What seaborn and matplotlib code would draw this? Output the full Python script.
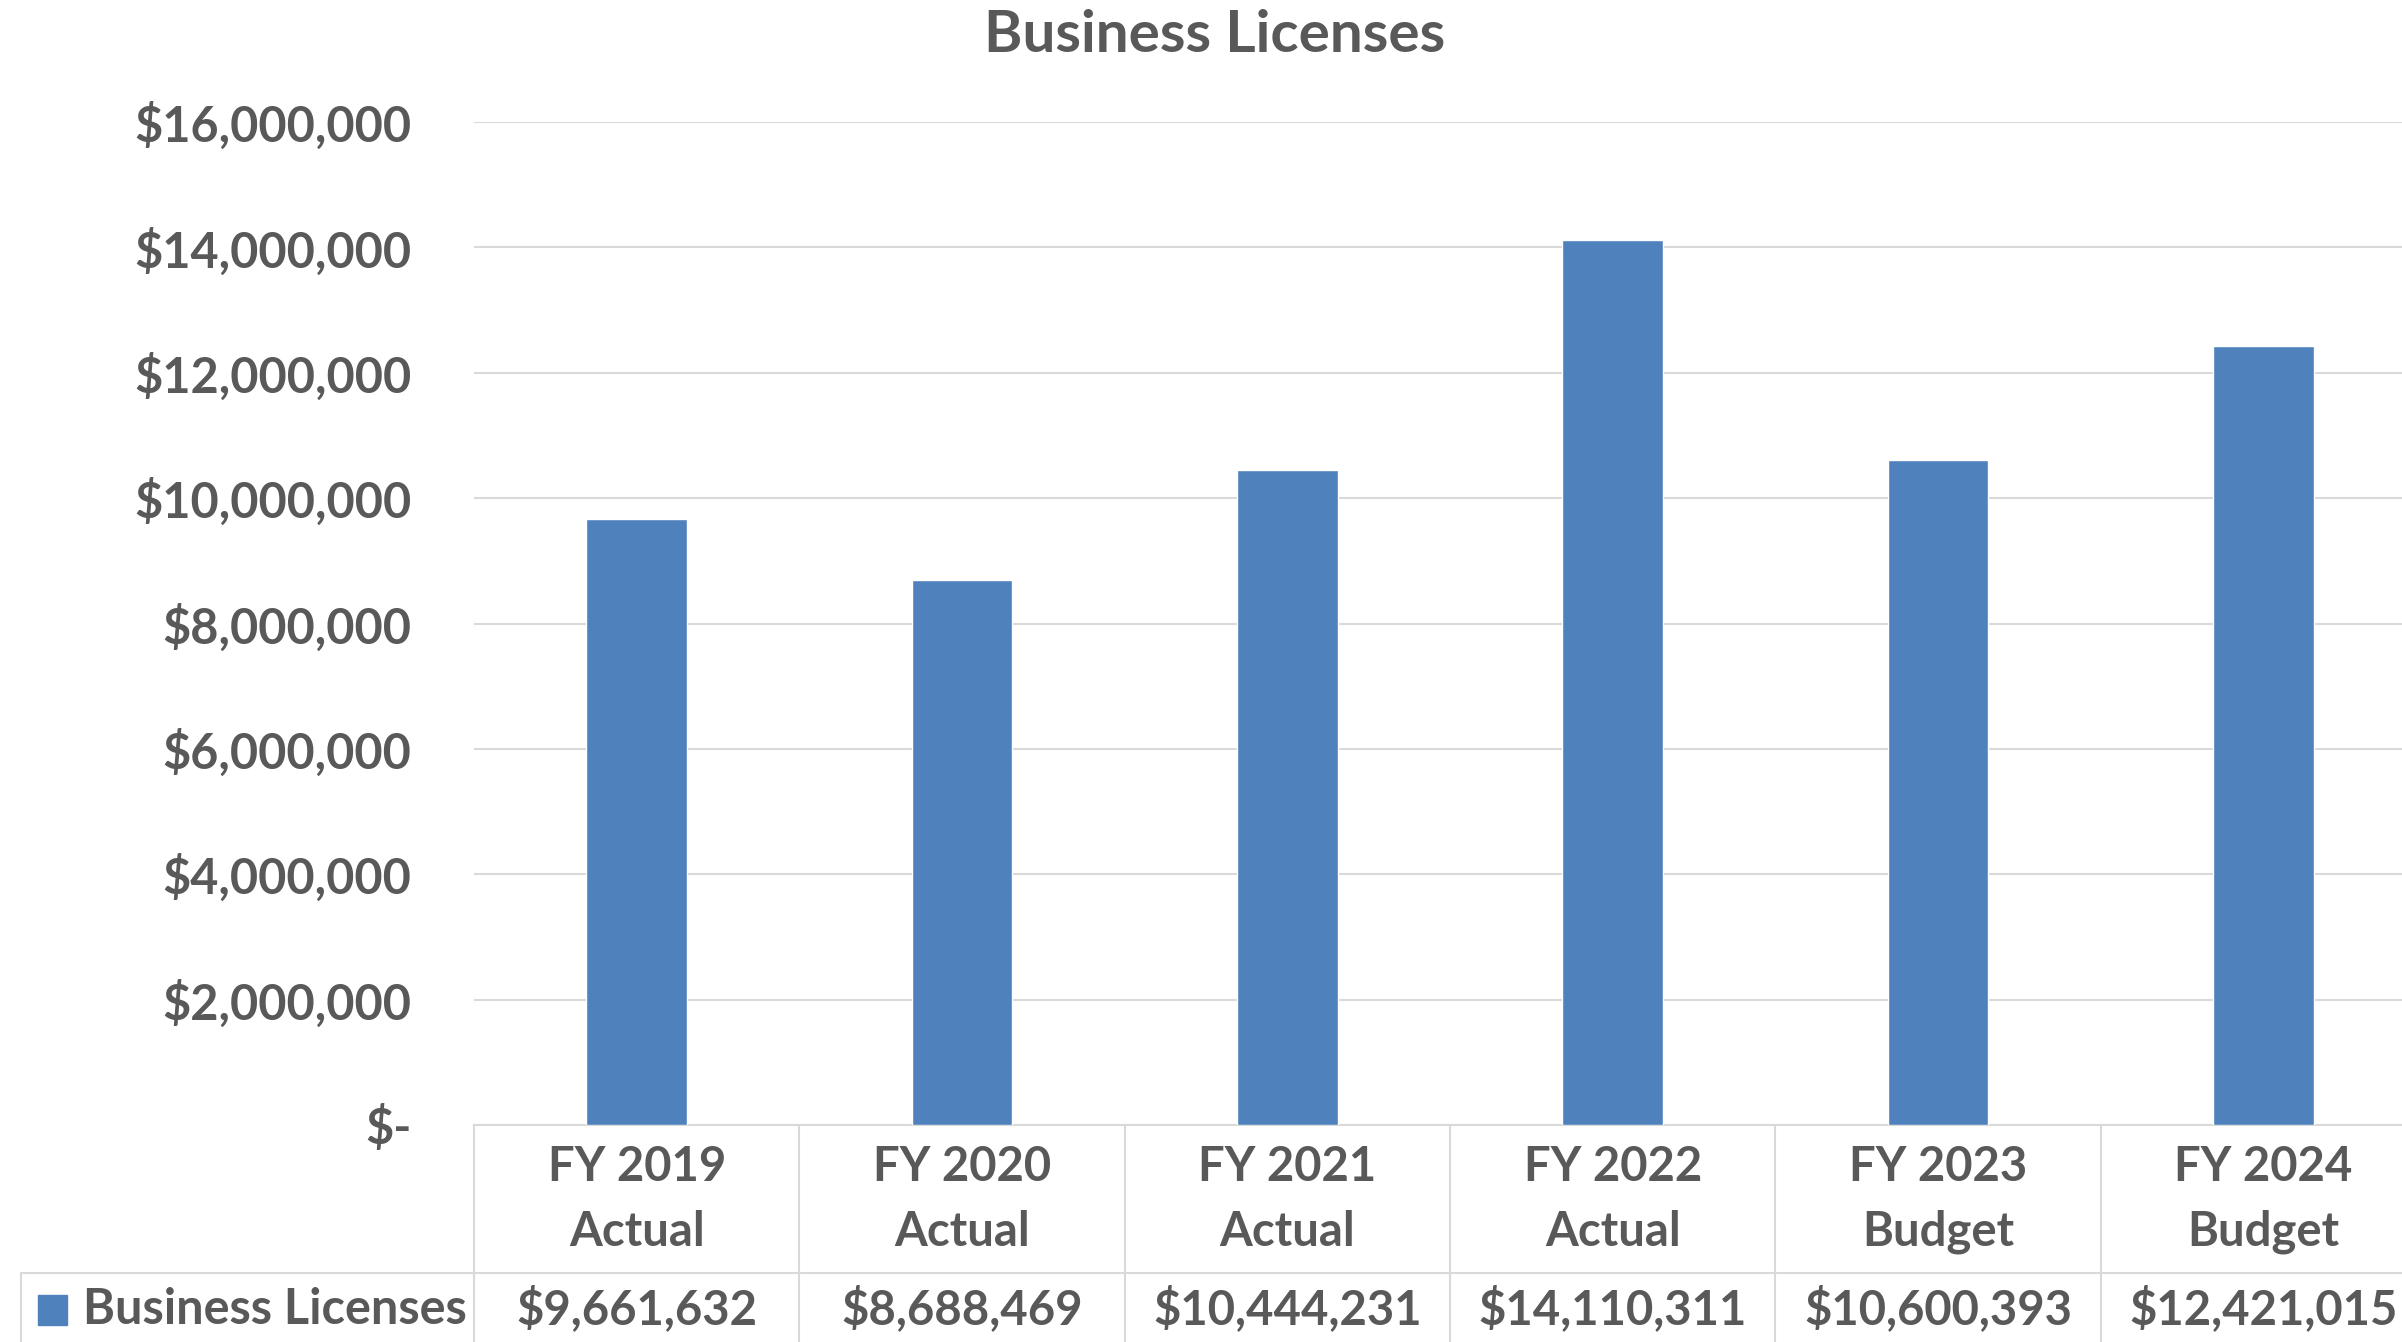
import matplotlib
matplotlib.use("Agg")
import matplotlib.pyplot as plt
import seaborn as sns
import pandas as pd
from matplotlib.patches import Rectangle
from matplotlib.ticker import FuncFormatter

years = ["FY 2019", "FY 2020", "FY 2021", "FY 2022", "FY 2023", "FY 2024"]
kinds = ["Actual", "Actual", "Actual", "Actual", "Budget", "Budget"]
values = [9661632, 8688469, 10444231, 14110311, 10600393, 12421015]
series_name = "Business Licenses"

bar_color = "#4f81bd"
text_color = "#595959"
line_color = "#d9d9d9"

sns.set_style("white")
plt.rcParams["font.family"] = ["Lato", "DejaVu Sans"]
plt.rcParams["font.weight"] = "bold"

df = pd.DataFrame({"label": [f"{y} {k}" for y, k in zip(years, kinds)], "value": values})

W, H = 2402, 1342
fig = plt.figure(figsize=(W / 100, H / 100), dpi=100)
# plot area in pixels: left 474, right 2426 (clipped), baseline 1125, top 122
ax = fig.add_axes([474 / W, (H - 1125) / H, 1952 / W, (1125 - 122) / H])

sns.barplot(data=df, x="label", y="value", color=bar_color, width=0.31,
            saturation=1, ax=ax, zorder=3)

ax.set_ylim(0, 16000000)
ax.set_yticks(range(0, 16000001, 2000000))
ax.yaxis.set_major_formatter(FuncFormatter(lambda v, p: "$-" if v == 0 else f"${v:,.0f}"))
ax.tick_params(axis="y", length=0, pad=45, labelsize=35, labelcolor=text_color)
ax.set_xticks([])
ax.set_xlabel("")
ax.set_ylabel("")
ax.set_xlim(-0.5, 5.5)
ax.grid(axis="y", color=line_color, linewidth=1.5, zorder=0)
for s in ["top", "right", "left"]:
    ax.spines[s].set_visible(False)
ax.spines["bottom"].set_color(line_color)
ax.spines["bottom"].set_linewidth(1.5)

# data table below the plot
tr = ax.get_xaxis_transform()
axh = 1125 - 122
def yf(px):
    return (1125 - px) / axh

left_x = -0.5 + (21 - 474) / (1952 / 6)
row_y = yf(1273)
bot_y = yf(1342)
ax.plot([left_x, 5.5], [row_y, row_y], transform=tr, color=line_color, lw=1.5, clip_on=False)
for i in range(7):
    ax.plot([i - 0.5, i - 0.5], [0, bot_y], transform=tr, color=line_color, lw=1.5, clip_on=False)
ax.plot([left_x, left_x], [row_y, bot_y], transform=tr, color=line_color, lw=1.5, clip_on=False)

fs = 34
for i, (y, k, v) in enumerate(zip(years, kinds, values)):
    ax.text(i, yf(1167), y, transform=tr, ha="center", va="center", fontsize=fs,
            color=text_color, fontweight="bold")
    ax.text(i, yf(1232), k, transform=tr, ha="center", va="center", fontsize=fs,
            color=text_color, fontweight="bold")
    ax.text(i, yf(1309), f"${v:,.0f}", transform=tr, ha="center", va="center",
            fontsize=fs, color=text_color, fontweight="bold")

# legend key in the table
fig.add_artist(Rectangle((38 / W, (H - 1325) / H), 29 / W, 30 / H,
                         transform=fig.transFigure, color=bar_color))
fig.text(83 / W, (H - 1309) / H, series_name, ha="left", va="center", fontsize=35,
         color=text_color, fontweight="bold")

fig.text(1215 / W, (H - 35) / H, "Business Licenses", ha="center", va="center",
         fontsize=42, color=text_color, fontweight="bold")

fig.savefig("out.png", dpi=100)
